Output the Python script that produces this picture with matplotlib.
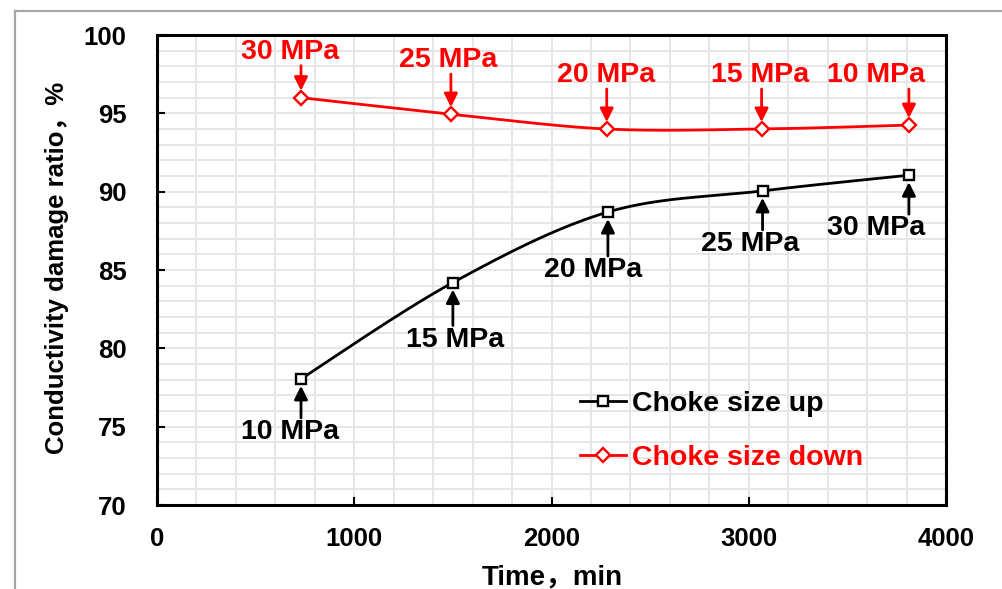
import numpy as np
import matplotlib
matplotlib.use("Agg")
import matplotlib.pyplot as plt
from matplotlib.lines import Line2D

plt.rcParams['font.family'] = ['Liberation Sans', 'Noto Sans CJK SC', 'DejaVu Sans']

# Data
time_up = [730, 1500, 2286, 3070, 3812]
ratio_up = [78.05, 84.2, 88.7, 90.05, 91.05]
pressure_up = ["10 MPa", "15 MPa", "20 MPa", "25 MPa", "30 MPa"]

time_down = [730, 1490, 2280, 3065, 3812]
ratio_down = [96.0, 94.95, 94.0, 94.0, 94.25]
pressure_down = ["30 MPa", "25 MPa", "20 MPa", "15 MPa", "10 MPa"]

series_names = ["Choke size up", "Choke size down"]
x_ticks = [0, 1000, 2000, 3000, 4000]
y_ticks = [70, 75, 80, 85, 90, 95, 100]

# Label placement (pixel offsets from each point)
up_offsets = [(-11, -53), (2, -57), (-15, -58), (-12, -53), (-33, -53)]
down_offsets = [(-11, 46), (-3, 54), (-1, 54), (-2, 54), (-33, 50)]


def smooth(xs, ys, n=40):
    """Cubic Bezier smoothing through the points (Catmull-Rom style)."""
    p = np.column_stack([xs, ys]).astype(float)
    m = len(p)
    out = []
    for i in range(m - 1):
        p0 = p[i - 1] if i > 0 else p[i]
        p1 = p[i]
        p2 = p[i + 1]
        p3 = p[i + 2] if i + 2 < m else p[i + 1]
        c1 = p1 + (p2 - p0) / 6.0
        c2 = p2 - (p3 - p1) / 6.0
        t = np.linspace(0, 1, n)[:, None]
        seg = ((1 - t) ** 3) * p1 + 3 * ((1 - t) ** 2) * t * c1 + 3 * (1 - t) * t ** 2 * c2 + t ** 3 * p2
        out.append(seg if i == 0 else seg[1:])
    s = np.vstack(out)
    return s[:, 0], s[:, 1]


fig = plt.figure(figsize=(10.02, 5.89), dpi=100)
ax = fig.add_axes([157 / 1002, 1 - 505 / 589, (946 - 157) / 1002, (505 - 35) / 589])

# Outer chart-area frame
fig.add_artist(Line2D([15 / 1002, 15 / 1002], [0, 1 - 11 / 589], transform=fig.transFigure,
                      color='#a6a6a6', lw=1.6))
fig.add_artist(Line2D([15 / 1002, 1], [1 - 11 / 589, 1 - 11 / 589], transform=fig.transFigure,
                      color='#a6a6a6', lw=1.6))

ax.set_xlim(0, 4000)
ax.set_ylim(70, 100)

# Grid
for gx in np.arange(200, 4000, 200):
    ax.axvline(gx, color='#e6e6e6', lw=1.4, zorder=0)
for gy in np.arange(71, 100, 1):
    ax.axhline(gy, color='#e6e6e6', lw=1.4, zorder=0)

# Series
sx, sy = smooth(time_up, ratio_up)
ax.plot(sx, sy, color='black', lw=2.0, zorder=3)
ax.plot(time_up, ratio_up, ls='none', marker='s', ms=7.5, mfc='white', mec='black', mew=1.7, zorder=4)
sx, sy = smooth(time_down, ratio_down)
ax.plot(sx, sy, color='#ff0000', lw=2.0, zorder=3)
ax.plot(time_down, ratio_down, ls='none', marker='D', ms=7.5, mfc='white', mec='#ff0000', mew=1.7, zorder=4)

label_font = dict(fontsize=20.5, fontweight='bold')


def annotate_points(xs, ys, labels, offsets, color):
    for x, y, lab, (dx, dy) in zip(xs, ys, labels, offsets):
        sgn = 1 if dy > 0 else -1
        ax.annotate(lab, xy=(x, y), xytext=(dx, dy), textcoords='offset pixels',
                    ha='center', va='center', color=color, **label_font, zorder=5)
        ax.annotate('', xy=(x, y), xytext=(0, sgn * (abs(dy) - 14)), textcoords='offset pixels',
                    arrowprops=dict(arrowstyle='-|>', color=color, lw=2.0, mutation_scale=20,
                                    shrinkA=0, shrinkB=5), zorder=5)


annotate_points(time_up, ratio_up, pressure_up, up_offsets, 'black')
annotate_points(time_down, ratio_down, pressure_down, down_offsets, '#ff0000')

# Axes styling
for sp in ax.spines.values():
    sp.set_linewidth(2.2)
    sp.set_color('black')
ax.set_xticks(x_ticks)
ax.set_yticks(y_ticks)
ax.set_xticklabels([str(v) for v in x_ticks], fontsize=18.5, fontweight='bold')
ax.set_yticklabels([str(v) for v in y_ticks], fontsize=18.5, fontweight='bold')
ax.tick_params(axis='x', direction='in', length=6, width=1.5, pad=16, top=False)
ax.tick_params(axis='y', direction='in', length=6, width=1.5, pad=22, right=False)

fig.text(552 / 1002, 1 - 577 / 589, "Time，min", ha='center', va='center', fontsize=20, fontweight='bold')
fig.text(57 / 1002, 1 - 268 / 589, "Conductivity damage ratio，%", ha='center', va='center',
         rotation=90, fontsize=18.5, fontweight='bold')

# Legend
handles = [
    Line2D([], [], color='black', lw=2.0, marker='s', ms=7.5, mfc='white', mec='black', mew=1.7),
    Line2D([], [], color='#ff0000', lw=2.0, marker='D', ms=7.5, mfc='white', mec='#ff0000', mew=1.7),
]
leg = ax.legend(handles, series_names, loc='upper left',
                bbox_to_anchor=((580 - 157) / 789, (505 - 391) / 470),
                frameon=False, prop=dict(size=20.5, weight='bold'),
                handlelength=1.6, handletextpad=0.22, labelspacing=0.98, borderpad=0, borderaxespad=0)
leg.get_texts()[0].set_color('black')
leg.get_texts()[1].set_color('#ff0000')

fig.savefig("out.png", dpi=100)
